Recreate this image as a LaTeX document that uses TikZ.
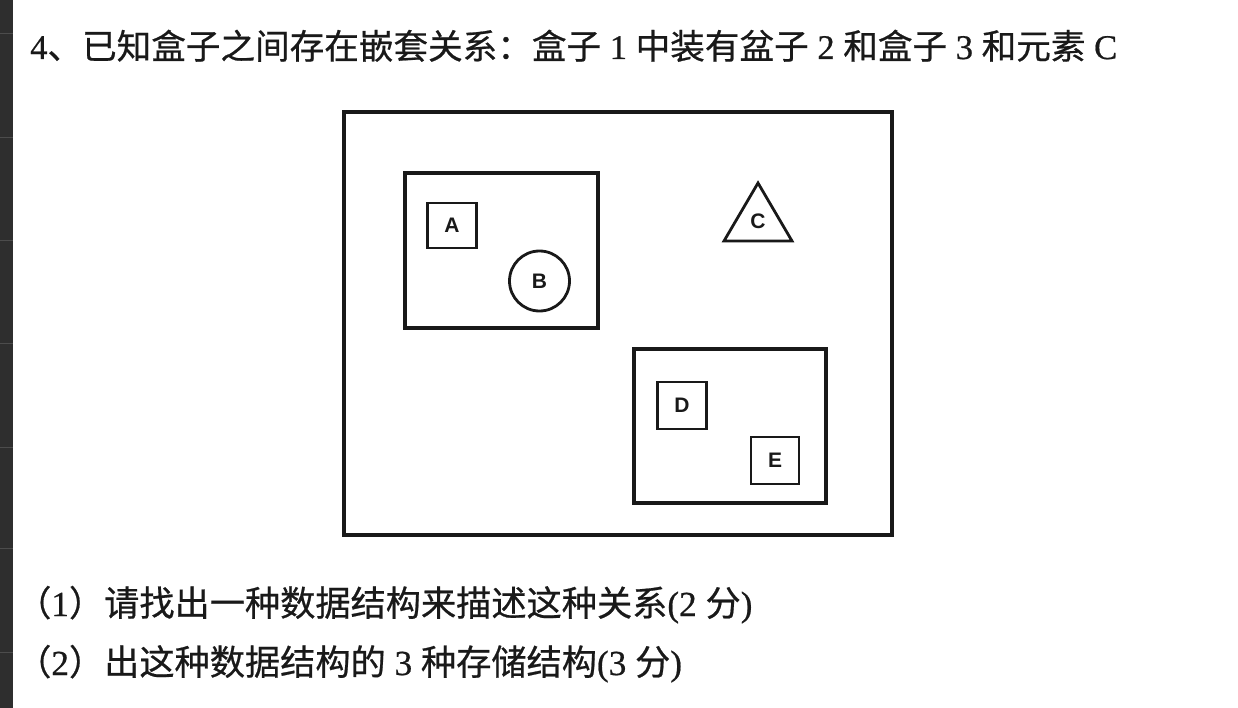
\documentclass[tikz,border=0pt]{standalone}
\usepackage{fontspec}
\setmainfont[FakeBold=0.6]{Liberation Serif}
\newfontfamily\cjk[FakeBold=0.6]{Noto Sans CJK SC}
\newfontfamily\lab{Liberation Sans}
\begin{document}
\begin{tikzpicture}[x=1pt,y=-1pt,
  frame/.style={draw=black!90, line width=3.2pt, inner sep=0pt, outer sep=0pt},
  smallframe/.style={draw=black!90, line width=2.8pt, inner sep=0pt, outer sep=0pt},
  lbl/.style={font=\lab\bfseries\fontsize{21}{21}\selectfont, text=black!90, inner sep=0pt},
  title/.style={anchor=base west, inner sep=0pt, font=\fontsize{34.6}{34.6}\selectfont, text=black!90},
  question/.style={anchor=base west, inner sep=0pt, font=\fontsize{35.2}{35.2}\selectfont, text=black!90}]
\useasboundingbox (0,0) rectangle (1238,708);
\fill[white] (0,0) rectangle (1238,708);
% dark side strip
\fill[black!82] (0,0) rectangle (13,708);
\foreach \yy in {34,138,241,343,447,548,652}
  \draw[black!70, line width=1pt] (0,\yy) -- (13,\yy);

% texts
\node[title] (t0) at (30,59) {4{\cjk 、已知盒子之间存在嵌套关系：盒子} 1 {\cjk 中装有盆子} 2 {\cjk 和盒子} 3 {\cjk 和元素} C};
\node[question] (q1) at (16,616) {{\cjk （}1{\cjk ）请找出一种数据结构来描述这种关系}(2 {\cjk 分})};
\node[question] (q2) at (16,675) {{\cjk （}2{\cjk ）出这种数据结构的} 3 {\cjk 种存储结构}(3 {\cjk 分})};

% diagram
\node[frame, minimum width=548pt, minimum height=423pt] (outer) at (618,323.5) {};
\node[frame, minimum width=193pt, minimum height=155pt] (box2) at (501.5,250.5) {};
\node[smallframe, minimum width=49pt, minimum height=45pt, lbl] (A) at (452,225.5) {A};
\node[smallframe, circle, minimum size=60pt, lbl] (B) at (539.5,281) {B};
\coordinate (c1) at (758,183);
\coordinate (c2) at (792,241);
\coordinate (c3) at (724,241);
\draw[black!90, line width=2.8pt, line join=miter] (c1) -- (c2) -- (c3) -- cycle;
\node[lbl] (C) at (758,221) {C};
\node[frame, minimum width=192pt, minimum height=154pt] (box3) at (730,426) {};
\node[smallframe, minimum width=49pt, minimum height=47pt, lbl] (D) at (682,405.5) {D};
\node[smallframe, minimum width=48pt, minimum height=47pt, lbl] (E) at (775,460.5) {E};
\end{tikzpicture}
\end{document}
